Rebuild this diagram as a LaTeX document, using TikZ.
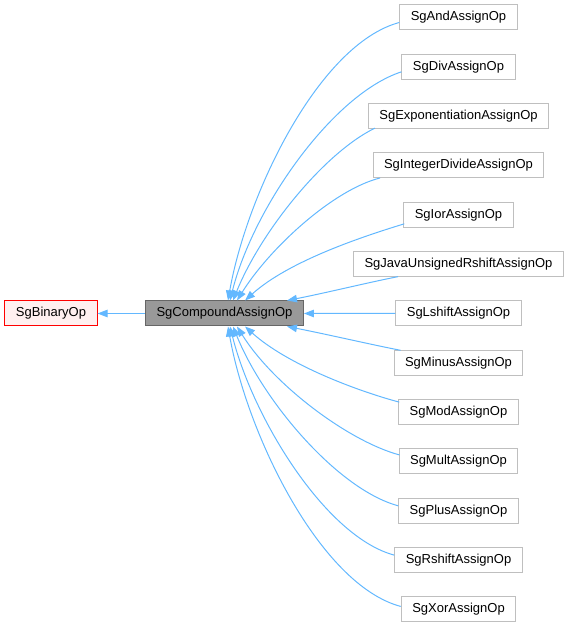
\documentclass[tikz,border=0pt]{standalone}
\usepackage{fontspec}
\setmainfont{Liberation Sans}
\usetikzlibrary{arrows.meta}
\definecolor{edgeblue}{HTML}{63B8FF}
\definecolor{boxgray}{HTML}{BFBFBF}
\definecolor{rootfill}{HTML}{FFF0F0}
\begin{document}
\begin{tikzpicture}[x=1pt,y=1pt,line width=1pt,font=\fontsize{13}{15}\selectfont,
  classbox/.style={draw=boxgray,fill=white,rectangle,minimum height=25pt,inner xsep=11pt,inner ysep=0pt},
  basebox/.style={classbox,draw=red,fill=rootfill},
  mainbox/.style={classbox,draw=black!60,fill=black!40},
  edge/.style={edgeblue,<-,>={Triangle[length=10pt,width=7.5pt]}}]
\useasboundingbox (0,0) rectangle (571,628);
\node[basebox] (base) at (51,314.5) {SgBinaryOp};
\node[mainbox] (cmp) at (224.5,314.5) {SgCompoundAssignOp};
\draw[edge] (base.east) -- (cmp.west);
% derived classes, top to bottom
\foreach \lbl/\an/\tx/\ta/\ex/\ey/\ia [count=\i from 0] in {
  SgAndAssignOp/north/3.5/80/0/-5/195,
  SgDivAssignOp/north/5.5/76/0/-5/198,
  SgExponentiationAssignOp/north/8.5/68/7/-12/206,
  SgIntegerDivideAssignOp/north/12.5/58/7.5/-12.5/194,
  SgIorAssignOp/north/20.5/42/1/-9/197,
  SgJavaUnsignedRshiftAssignOp/north/62.5/11/45/-12.5/191,
  SgLshiftAssignOp/east/0/0/0/0/180,
  SgMinusAssignOp/south/62.5/-11/7/12.5/169,
  SgModAssignOp/south/20.5/-42/1/10/165,
  SgMultAssignOp/south/12.5/-58/1/6.5/165,
  SgPlusAssignOp/south/8.5/-68/0/5/165,
  SgRshiftAssignOp/south/5.5/-76/0/5/165,
  SgXorAssignOp/south/3.5/-80/0/3/165}
{
  \node[classbox] (c\i) at (458.5,{610.5-49.33*\i}) {\lbl};
  \draw[edge] ([xshift=\tx]cmp.\an) to[out=\ta,in=\ia,out looseness=0.85,in looseness=0.65] ([shift={(\ex,\ey)}]c\i.west);
}
\end{tikzpicture}
\end{document}
